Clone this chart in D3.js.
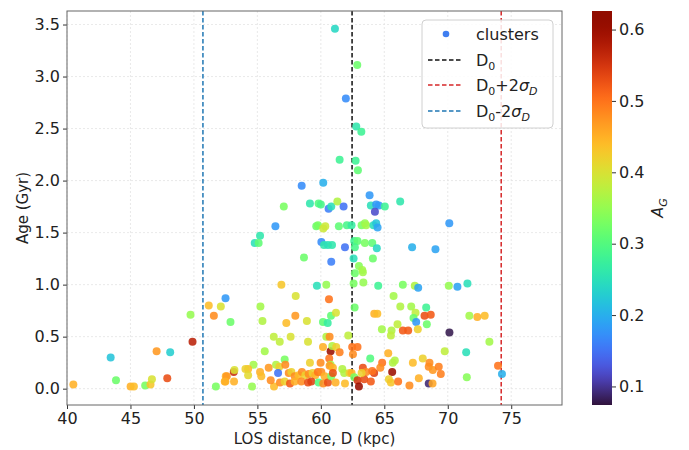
<!DOCTYPE html>
<html>
<head>
<meta charset="utf-8">
<script src="https://cdn.jsdelivr.net/npm/d3@7"></script>
<style>
  body { margin: 0; background: #fff; }
  svg { font-family: "DejaVu Sans", sans-serif; }
</style>
</head>
<body>
<svg id="chart" width="689" height="450"></svg>
<script>
// LOS distance (kpc), age (Gyr) and extinction A_G of each cluster
const dist = [
  61.11, 62.87, 61.97, 62.79, 63.19, 61.48, 62.74, 62.92, 58.49, 60.19,
  57.08, 59.14, 59.82, 60.00, 60.61, 60.82, 61.30, 61.79, 63.84, 63.94,
  64.36, 64.57, 65.04, 64.26, 66.25, 70.12, 56.42, 59.64, 59.77, 60.19,
  60.35, 61.42, 62.05, 62.42, 63.21, 63.47, 63.57, 64.15, 64.36, 64.47,
  55.21, 54.79, 55.10, 60.04, 60.25, 60.56, 60.88, 61.90, 62.63, 62.89,
  62.68, 63.47, 64.05, 64.41, 67.19, 69.03, 58.67, 60.82, 62.58, 64.10,
  63.00, 63.26, 62.68, 63.31,
  63.35, 62.58, 64.52, 56.89, 59.69, 60.43, 58.02, 60.64, 62.66, 55.24,
  55.40, 57.99, 58.90, 57.28, 60.80, 61.19, 60.17, 60.54, 65.73, 66.46,
  67.40, 67.67, 70.08, 70.76, 71.55, 66.26, 67.12, 64.21, 64.45, 64.81,
  65.57, 65.52, 66.46, 66.88, 67.46, 67.30, 68.30, 68.17, 68.66, 67.51,
  68.35, 67.64, 70.13, 66.04, 62.16, 71.70, 72.33, 72.91, 73.28, 52.49,
  51.17, 52.12, 51.57, 52.88, 49.73, 49.89, 56.29, 56.76, 57.62, 58.99,
  60.43, 60.69,
  40.50, 43.44, 43.86, 45.01, 45.27, 46.16, 46.58, 46.69, 47.06, 47.90,
  48.13, 51.73,
  52.51, 52.43, 53.14, 53.19, 55.58, 60.17, 60.77, 60.66, 60.77, 59.98,
  59.14, 57.15, 56.47, 56.73, 55.89, 55.21, 55.31, 54.69, 54.27, 54.06,
  54.27, 52.59, 52.48, 53.16, 54.58, 56.31, 56.63, 57.20, 57.47, 57.68,
  57.94, 58.25, 58.51, 58.78, 59.04, 59.35, 59.56, 59.77, 60.04, 60.30,
  56.05, 56.78, 57.15, 57.57, 57.94, 58.46, 58.99, 59.25, 59.83, 60.19,
  60.56, 60.82,
  60.90, 61.21, 61.48, 62.47, 62.89, 62.53, 63.89, 65.31, 64.83, 65.67,
  65.83, 67.25, 68.03, 68.56, 68.50, 68.82, 69.29, 69.45, 69.76, 71.45,
  71.50, 60.69, 60.95, 60.95, 61.69, 61.84, 62.26, 62.42, 61.16, 61.90,
  62.63, 62.89, 63.00, 63.31, 63.57, 63.42, 63.94, 63.21, 64.20, 64.05,
  64.68, 65.62, 65.36, 65.52, 66.09, 66.98, 67.72, 68.50, 68.80, 73.96,
  74.27
];
const age = [
  3.46, 3.11, 2.79, 2.52, 2.47, 2.20, 2.19, 2.10, 1.95, 1.98,
  1.75, 1.78, 1.78, 1.77, 1.73, 1.75, 1.80, 1.75, 1.86, 1.76,
  1.77, 1.76, 1.75, 1.70, 1.80, 1.59, 1.56, 1.56, 1.57, 1.54,
  1.56, 1.56, 1.57, 1.57, 1.57, 1.59, 1.57, 1.57, 1.59, 1.55,
  1.47, 1.40, 1.40, 1.41, 1.38, 1.38, 1.38, 1.36, 1.42, 1.42,
  1.36, 1.40, 1.40, 1.35, 1.36, 1.34, 1.26, 1.22, 1.25, 1.25,
  1.18, 1.14, 1.11, 1.12,
  1.02, 1.01, 0.99, 1.00, 0.99, 1.00, 0.89, 0.86, 0.78, 0.79,
  0.65, 0.70, 0.65, 0.63, 0.70, 0.73, 0.64, 0.63, 0.89, 1.00,
  0.99, 0.97, 0.99, 0.98, 1.01, 0.79, 0.79, 0.72, 0.72, 0.57,
  0.56, 0.51, 0.56, 0.56, 0.73, 0.68, 0.78, 0.70, 0.71, 0.64,
  0.62, 0.57, 0.54, 0.62, 0.51, 0.70, 0.69, 0.70, 0.45, 0.87,
  0.80, 0.79, 0.70, 0.64, 0.71, 0.45, 0.50, 0.45, 0.50, 0.45,
  0.50, 0.50,
  0.04, 0.30, 0.08, 0.02, 0.02, 0.03, 0.04, 0.09, 0.36, 0.10,
  0.35, 0.02,
  0.12, 0.07, 0.16, 0.18, 0.36, 0.40, 0.36, 0.29, 0.23, 0.25,
  0.25, 0.28, 0.23, 0.21, 0.20, 0.16, 0.12, 0.23, 0.19, 0.19,
  0.13, 0.12, 0.07, 0.07, 0.02, 0.02, 0.15, 0.23, 0.15, 0.16,
  0.12, 0.13, 0.16, 0.13, 0.14, 0.15, 0.13, 0.16, 0.16, 0.12,
  0.08, 0.06, 0.07, 0.05, 0.07, 0.07, 0.06, 0.07, 0.06, 0.05,
  0.06, 0.12,
  0.41, 0.40, 0.35, 0.40, 0.40, 0.33, 0.29, 0.34, 0.25, 0.25,
  0.27, 0.25, 0.29, 0.25, 0.21, 0.18, 0.21, 0.14, 0.36, 0.35,
  0.11, 0.22, 0.20, 0.15, 0.19, 0.15, 0.15, 0.15, 0.06, 0.05,
  0.11, 0.08, 0.02, 0.20, 0.16, 0.09, 0.07, 0.15, 0.15, 0.17,
  0.20, 0.16, 0.09, 0.06, 0.07, 0.03, 0.10, 0.05, 0.05, 0.22,
  0.14
];
const extinction = [
  0.24, 0.32, 0.17, 0.26, 0.28, 0.28, 0.28, 0.31, 0.17, 0.20,
  0.33, 0.26, 0.30, 0.29, 0.16, 0.25, 0.37, 0.15, 0.18, 0.25,
  0.18, 0.18, 0.28, 0.12, 0.26, 0.18, 0.18, 0.32, 0.33, 0.39,
  0.39, 0.31, 0.29, 0.27, 0.33, 0.35, 0.36, 0.25, 0.22, 0.19,
  0.26, 0.25, 0.31, 0.17, 0.26, 0.25, 0.26, 0.15, 0.28, 0.31,
  0.29, 0.33, 0.31, 0.24, 0.20, 0.19, 0.32, 0.16, 0.25, 0.32,
  0.34, 0.36, 0.32, 0.36,
  0.35, 0.33, 0.28, 0.43, 0.25, 0.35, 0.40, 0.50, 0.32, 0.36,
  0.37, 0.47, 0.40, 0.44, 0.31, 0.40, 0.31, 0.27, 0.36, 0.33,
  0.37, 0.19, 0.35, 0.19, 0.25, 0.37, 0.36, 0.45, 0.44, 0.36,
  0.37, 0.38, 0.52, 0.52, 0.38, 0.32, 0.28, 0.53, 0.52, 0.18,
  0.32, 0.42, 0.08, 0.38, 0.38, 0.36, 0.45, 0.44, 0.36, 0.18,
  0.44, 0.40, 0.48, 0.32, 0.35, 0.57, 0.38, 0.38, 0.40, 0.40,
  0.37, 0.48,
  0.45, 0.22, 0.32, 0.45, 0.44, 0.33, 0.43, 0.40, 0.47, 0.53,
  0.23, 0.33,
  0.45, 0.45, 0.56, 0.40, 0.36, 0.45, 0.60, 0.50, 0.36, 0.48,
  0.42, 0.33, 0.37, 0.42, 0.47, 0.45, 0.44, 0.36, 0.44, 0.42,
  0.41, 0.47, 0.45, 0.45, 0.35, 0.44, 0.15, 0.48, 0.48, 0.42,
  0.48, 0.44, 0.48, 0.42, 0.48, 0.42, 0.45, 0.50, 0.48, 0.45,
  0.48, 0.48, 0.42, 0.52, 0.45, 0.48, 0.53, 0.54, 0.30, 0.48,
  0.53, 0.33,
  0.37, 0.42, 0.49, 0.50, 0.50, 0.48, 0.30, 0.45, 0.50, 0.37,
  0.37, 0.44, 0.42, 0.48, 0.48, 0.47, 0.49, 0.49, 0.38, 0.25,
  0.34, 0.47, 0.45, 0.53, 0.37, 0.37, 0.42, 0.45, 0.45, 0.44,
  0.33, 0.55, 0.60, 0.53, 0.48, 0.53, 0.52, 0.42, 0.54, 0.50,
  0.48, 0.60, 0.42, 0.43, 0.50, 0.48, 0.45, 0.09, 0.46, 0.50,
  0.20
];

const xTicks = [40, 45, 50, 55, 60, 65, 70, 75];
const yTicks = [0, 0.5, 1.0, 1.5, 2.0, 2.5, 3.0, 3.5];
const cTicks = [0.1, 0.2, 0.3, 0.4, 0.5, 0.6];

// mean distance and its 2-sigma spread
const D0 = 62.46;
const twoSigma = 11.75;

const svg = d3.select('#chart');
const plot = { left: 67, top: 11, right: 562, bottom: 405 };

const x = d3.scaleLinear().domain([40, 79]).range([plot.left, plot.right]);
const y = d3.scaleLinear().domain([-0.157, 3.63]).range([plot.bottom, plot.top]);

// matplotlib-style turbo: d3's fit runs a little dark at the very bottom
const turbo = t =>
  t < 0.04 ? d3.interpolateRgb('#30123b', d3.interpolateTurbo(0.04))(t / 0.04) : d3.interpolateTurbo(t);
const cDomain = [0.074, 0.626];
const color = d3.scaleSequential(turbo).domain(cDomain);

// grid
const grid = svg.append('g').attr('stroke', '#e3e3e3').attr('stroke-width', 0.8).attr('stroke-dasharray', '2,2');
grid.selectAll('.gx').data(xTicks).enter().append('line')
  .attr('x1', d => x(d)).attr('x2', d => x(d))
  .attr('y1', plot.top).attr('y2', plot.bottom);
grid.selectAll('.gy').data(yTicks).enter().append('line')
  .attr('x1', plot.left).attr('x2', plot.right)
  .attr('y1', d => y(d)).attr('y2', d => y(d));

// reference distance lines
const refLines = [
  { value: D0, color: '#111' },
  { value: D0 + twoSigma, color: '#d62728' },
  { value: D0 - twoSigma, color: '#1f77b4' }
];
svg.append('g').selectAll('line').data(refLines).enter().append('line')
  .attr('x1', d => x(d.value)).attr('x2', d => x(d.value))
  .attr('y1', plot.top).attr('y2', plot.bottom)
  .attr('stroke', d => d.color)
  .attr('stroke-width', 1.5)
  .attr('stroke-dasharray', '4.5,2.5');

// clusters
const points = d3.range(dist.length).map(i => ({ d: dist[i], a: age[i], ag: extinction[i] }));
svg.append('g').selectAll('circle').data(points).enter().append('circle')
  .attr('cx', p => x(p.d))
  .attr('cy', p => y(p.a))
  .attr('r', 4)
  .attr('fill', p => color(p.ag))
  .attr('fill-opacity', 0.88);

// axes
const xAxis = svg.append('g')
  .attr('transform', `translate(0,${plot.bottom})`)
  .call(d3.axisBottom(x).tickValues(xTicks).tickSize(4).tickPadding(4).tickFormat(d3.format('d')));
const yAxis = svg.append('g')
  .attr('transform', `translate(${plot.left},0)`)
  .call(d3.axisLeft(y).tickValues(yTicks).tickSize(4).tickPadding(3).tickFormat(d3.format('.1f')));
[xAxis, yAxis].forEach(g => {
  g.select('.domain').remove();
  g.selectAll('line').attr('stroke', '#333');
  g.selectAll('text').attr('font-size', 16).attr('fill', '#222').attr('font-family', '"DejaVu Sans", sans-serif');
});

svg.append('rect')
  .attr('x', plot.left).attr('y', plot.top)
  .attr('width', plot.right - plot.left).attr('height', plot.bottom - plot.top)
  .attr('fill', 'none').attr('stroke', '#666').attr('stroke-width', 1);

svg.append('text')
  .attr('x', (plot.left + plot.right) / 2).attr('y', 444)
  .attr('text-anchor', 'middle').attr('font-size', 15).attr('fill', '#222')
  .text('LOS distance, D (kpc)');
svg.append('text')
  .attr('transform', `translate(28,${(plot.top + plot.bottom) / 2}) rotate(-90)`)
  .attr('text-anchor', 'middle').attr('font-size', 15).attr('fill', '#222')
  .text('Age (Gyr)');

// legend
const legend = svg.append('g');
legend.append('rect')
  .attr('x', 422).attr('y', 20).attr('width', 131).attr('height', 108).attr('rx', 4)
  .attr('fill', '#fff').attr('fill-opacity', 0.85).attr('stroke', '#d0d0d0');
legend.append('circle').attr('cx', 446).attr('cy', 34).attr('r', 3.3).attr('fill', '#3f7ef0');
legend.append('text').attr('x', 476).attr('y', 34).attr('dy', '0.35em')
  .attr('font-size', 16).attr('fill', '#222').text('clusters');

const legendLines = [
  { y: 60, color: '#111', parts: [['D', null], ['0', 'sub']] },
  { y: 85, color: '#d62728', parts: [['D', null], ['0', 'sub'], ['+2', null], ['σ', 'it'], ['D', 'subit']] },
  { y: 111, color: '#1f77b4', parts: [['D', null], ['0', 'sub'], ['-2', null], ['σ', 'it'], ['D', 'subit']] }
];
legendLines.forEach(item => {
  legend.append('line')
    .attr('x1', 428).attr('x2', 463).attr('y1', item.y).attr('y2', item.y)
    .attr('stroke', item.color).attr('stroke-width', 1.5).attr('stroke-dasharray', '4.5,2.5');
  const t = legend.append('text').attr('x', 476).attr('y', item.y + 6)
    .attr('font-size', 16).attr('fill', '#222');
  let shifted = false;
  item.parts.forEach(([s, kind]) => {
    const sub = kind === 'sub' || kind === 'subit';
    const span = t.append('tspan').text(s);
    if (sub) span.attr('font-size', 11).attr('dy', shifted ? 0 : 4);
    else span.attr('dy', shifted ? -4 : 0);
    if (kind === 'it' || kind === 'subit') span.attr('font-style', 'italic');
    shifted = sub;
  });
});

// colorbar
const cbar = { x: 592, w: 20 };
const cy = d3.scaleLinear().domain(cDomain).range([plot.bottom, plot.top]);
const grad = svg.append('defs').append('linearGradient')
  .attr('id', 'turbo').attr('x1', 0).attr('x2', 0).attr('y1', 1).attr('y2', 0);
d3.range(0, 1.0001, 0.02).forEach(t => {
  grad.append('stop').attr('offset', t).attr('stop-color', turbo(t));
});
svg.append('rect')
  .attr('x', cbar.x).attr('y', plot.top).attr('width', cbar.w).attr('height', plot.bottom - plot.top)
  .attr('fill', 'url(#turbo)');
const cAxis = svg.append('g')
  .attr('transform', `translate(${cbar.x + cbar.w},0)`)
  .call(d3.axisRight(cy).tickValues(cTicks).tickSize(4).tickPadding(3).tickFormat(d3.format('.1f')));
cAxis.select('.domain').remove();
cAxis.selectAll('line').attr('stroke', '#333');
cAxis.selectAll('text').attr('font-size', 16).attr('fill', '#222').attr('font-family', '"DejaVu Sans", sans-serif');

const cLabel = svg.append('text')
  .attr('transform', `translate(663,${(plot.top + plot.bottom) / 2}) rotate(-90)`)
  .attr('text-anchor', 'middle').attr('font-size', 16).attr('fill', '#222');
cLabel.append('tspan').attr('font-style', 'italic').text('A');
cLabel.append('tspan').attr('font-style', 'italic').attr('font-size', 11).attr('dy', 4).text('G');
</script>
</body>
</html>
